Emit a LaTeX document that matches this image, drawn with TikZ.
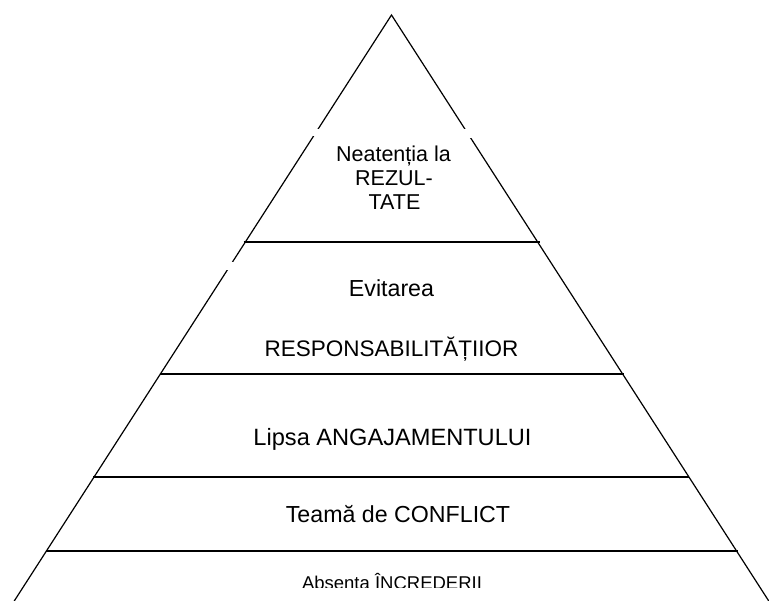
\documentclass[tikz,border=0pt]{standalone}
\usepackage{fontspec}
\setmainfont{Liberation Sans}
\begin{document}
\begin{tikzpicture}[x=1pt,y=-1pt,
  side/.style={line width=1.2pt,black},
  band/.style={line width=1.2pt,black},
  lbl/.style={anchor=base,inner sep=0pt,font=\fontsize{21.5}{24}\selectfont,text=black},
  biglbl/.style={lbl,font=\fontsize{23.2}{26}\selectfont},
  gapbox/.style={fill=white,draw=none}]
\useasboundingbox (0,0) rectangle (769,601);
\clip (0,0) rectangle (769,601);
% corners
\coordinate (apex) at (391.5,15);
\coordinate (bl) at (2,620);
\coordinate (br) at (781,620);
% sides
\draw[side] (bl) -- (apex) -- (br);
% gaps in the sides
\fill[gapbox] (311,129.5) rectangle (321,136);
\fill[gapbox] (462,129) rectangle (476,138);
\fill[gapbox] (225,262) rectangle (238,270);
% band lines
\coordinate (l1) at (243.5,242); \coordinate (r1) at (539.5,242);
\coordinate (l2) at (159.5,374); \coordinate (r2) at (623.5,374);
\coordinate (l3) at (93,477);    \coordinate (r3) at (689,477);
\coordinate (l4) at (45.5,551);  \coordinate (r4) at (737.5,551);
\draw[band] (l1) -- (r1);
\draw[band] (l2) -- (r2);
\draw[band] (l3) -- (r3);
\draw[band] (l4) -- (r4);
% labels
\node[lbl] (t1a) at (393.5,162) {Neatenția la};
\node[lbl] (t1b) at (394,186) {REZUL-};
\node[lbl] (t1c) at (394.5,210) {TATE};
\node[biglbl] (t2a) at (391.5,297) {Evitarea};
\node[lbl,font=\fontsize{22.5}{26}\selectfont] (t2b) at (391.5,357) {RESPONSABILITĂȚIIOR};
\node[biglbl,font=\fontsize{23.6}{26}\selectfont] (t3) at (392.5,446) {Lipsa ANGAJAMENTULUI};
\node[biglbl] (t4) at (398,523) {Teamă de CONFLICT};
\begin{scope}
\clip (280,560) rectangle (500,587.5);
\node[lbl,font=\fontsize{18.5}{22}\selectfont] (t5) at (392,589.5) {Absența ÎNCREDERII};
\end{scope}
\end{tikzpicture}
\end{document}
